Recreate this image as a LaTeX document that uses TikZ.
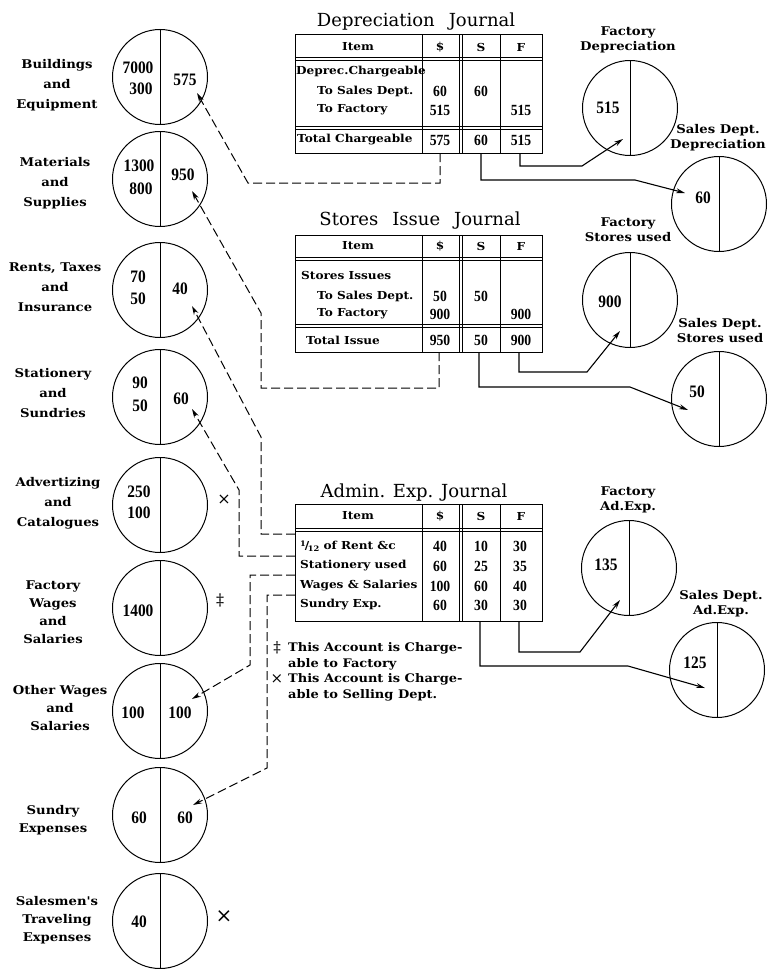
\documentclass[tikz,border=0pt]{standalone}
\usepackage{fontspec}
\setmainfont{DejaVu Serif}
\newfontfamily\lblfont[FakeStretch=1.1]{DejaVu Serif}
\newfontfamily\numfont[FakeStretch=0.88]{Liberation Serif}
\usetikzlibrary{arrows.meta,calc}

\newcommand{\twelfth}{\raisebox{3pt}{\fontsize{7.5}{7.5}\selectfont 1}\kern-1pt/\kern-1.5pt\raisebox{-1.5pt}{\fontsize{7.5}{7.5}\selectfont 12}}

\tikzset{
  acct/.style={circle, draw, line width=1pt, minimum size=95pt, inner sep=0pt},
  lbl/.style={font=\lblfont\bfseries\fontsize{12}{20}\selectfont, align=center, inner sep=0pt},
  lbltight/.style={lbl, font=\lblfont\bfseries\fontsize{12}{18}\selectfont},
  rlbl/.style={lbl, font=\lblfont\bfseries\fontsize{12}{15}\selectfont},
  cell/.style={font=\lblfont\bfseries\fontsize{11}{13}\selectfont, inner sep=0pt},
  note/.style={font=\lblfont\bfseries\fontsize{11.8}{16}\selectfont, inner sep=0pt, align=left, anchor=west},
  sym/.style={font=\fontsize{16}{16}\selectfont, inner sep=0pt},
  num/.style={font=\numfont\bfseries\fontsize{17.5}{17.5}\selectfont, inner sep=0pt},
  tnum/.style={font=\numfont\bfseries\fontsize{15.5}{15.5}\selectfont, inner sep=0pt},
  ttl/.style={font=\fontsize{18}{18}\selectfont, anchor=base, inner sep=0pt},
  tabline/.style={line width=1pt},
  slink/.style={line width=1.1pt, -{Stealth[length=9pt,width=5pt]}},
  dlink/.style={line width=1pt, dash pattern=on 9pt off 4pt, -{Stealth[open,length=9pt,width=5pt]}},
}

\begin{document}
\begin{tikzpicture}[x=1pt, y=-1pt]
\useasboundingbox (0,0) rectangle (769,969);

    % Accounts, left
    \foreach \n/\y in {bldg/77, matl/179, rent/290, stat/397, advt/505, fwag/608, owag/711, sund/815, trav/921} {
        \node[acct] (\n) at (160,\y) {};
        \draw[tabline] (\n.north) -- (\n.south);
    }

    % Accounts, right
    \foreach \n/\x/\y in {fdep/630/108, sdep/719/204, fsto/630/300, ssto/719/399, fadm/629/568, sadm/717/670} {
        \node[acct] (\n) at (\x,\y) {};
        \draw[tabline] (\n.north) -- (\n.south);
    }

    % Names
    \node[lbl] (bldg-l) at (57,85) {Buildings\\and\\Equipment};
    \node[lbl] (matl-l) at (55,183) {Materials\\and\\Supplies};
    \node[lbl] (rent-l) at (55,287) {Rents, Taxes\\and\\Insurance};
    \node[lbl] (stat-l) at (53,393) {Stationery\\and\\Sundries};
    \node[lbl] (advt-l) at (58,503) {Advertizing\\and\\Catalogues};
    \node[lbltight] (fwag-l) at (53,612) {Factory\\Wages\\and\\Salaries};
    \node[lbltight] (owag-l) at (60,708) {Other Wages\\and\\Salaries};
    \node[lbltight] (sund-l) at (53,820) {Sundry\\Expenses};
    \node[lbltight] (trav-l) at (57,920) {Salesmen's\\Traveling\\Expenses};

    \node[rlbl] (fdep-l) at (628,40) {Factory\\Depreciation};
    \node[rlbl] (sdep-l) at (718,138) {Sales Dept.\\Depreciation};
    \node[rlbl] (fsto-l) at (628,230) {Factory\\Stores used};
    \node[rlbl] (ssto-l) at (720,331) {Sales Dept.\\Stores used};
    \node[rlbl] (fadm-l) at (628,500) {Factory\\Ad.Exp.};
    \node[rlbl] (sadm-l) at (721,604) {Sales Dept.\\Ad.Exp.};

    % Amounts
    \node[num] (bldg-a) at (138,68) {7000};
    \node[num] (bldg-b) at (141,89) {300};
    \node[num] (bldg-c) at (185,80) {575};
    \node[num] (matl-a) at (139,166) {1300};
    \node[num] (matl-b) at (141,189) {800};
    \node[num] (matl-c) at (183,175) {950};
    \node[num] (rent-a) at (138,277) {70};
    \node[num] (rent-b) at (138,299) {50};
    \node[num] (rent-c) at (180,289) {40};
    \node[num] (stat-a) at (140,383) {90};
    \node[num] (stat-b) at (140,406) {50};
    \node[num] (stat-c) at (181,399) {60};
    \node[num] (advt-a) at (139,492) {250};
    \node[num] (advt-b) at (139,513) {100};
    \node[num] (fwag-a) at (138,611) {1400};
    \node[num] (owag-a) at (133,713) {100};
    \node[num] (owag-c) at (180,713) {100};
    \node[num] (sund-a) at (139,818) {60};
    \node[num] (sund-c) at (185,818) {60};
    \node[num] (trav-a) at (139,922) {40};

    \node[num] (fdep-a) at (608,108) {515};
    \node[num] (sdep-a) at (703,198) {60};
    \node[num] (fsto-a) at (610,302) {900};
    \node[num] (ssto-a) at (697,392) {50};
    \node[num] (fadm-a) at (606,565) {135};
    \node[num] (sadm-a) at (695,663) {125};

    % Marks
    \node[sym] (advt-m) at (224,500) {×};
    \node[sym] (fwag-m) at (220,600) {‡};
    \node[sym, font=\fontsize{20}{20}\selectfont] (trav-m) at (224,917) {×};

    % Journals
    \foreach \t/\h/\b in {34/57/153, 235/257/352, 504/528/621} {
        \draw[tabline] (295,\t) rectangle (542,\b);
        \draw[tabline] (295,\h) -- (542,\h) (295,\h+3) -- (542,\h+3);
        \draw[tabline] (422,\t) -- (422,\b) (459,\t) -- (459,\b) (462,\t) -- (462,\b) (500,\t) -- (500,\b);
    }
    \draw[tabline] (295,126) -- (542,126) (295,129) -- (542,129);
    \draw[tabline] (295,324) -- (542,324) (295,327) -- (542,327);

    \node[ttl] (d-title) at (416,27) {Depreciation\hspace{14pt}Journal};
    \node[ttl] (s-title) at (420,225) {Stores\hspace{14pt}Issue\hspace{14pt}Journal};
    \node[ttl] (a-title) at (414,497) {Admin. Exp. Journal};

    \foreach \j/\y in {d/47, s/246, a/516} {
        \node[cell] (\j-h1) at (358,\y) {Item};
        \node[cell] (\j-h2) at (440,\y) {\$};
        \node[cell] (\j-h3) at (481,\y) {S};
        \node[cell] (\j-h4) at (521,\y) {F};
    }

    % Depreciation
    \node[cell, anchor=west] (d-r1) at (296,72) {Deprec.Chargeable};
    \node[cell, anchor=west] (d-r2) at (317,91) {To Sales Dept.};
    \node[cell, anchor=west] (d-r3) at (317,110) {To Factory};
    \node[tnum] (d-d2) at (440,91) {60};
    \node[tnum] (d-d3) at (440,110) {515};
    \node[tnum] (d-s2) at (481,91) {60};
    \node[tnum] (d-f3) at (521,110) {515};
    \node[cell, anchor=west] (d-tot) at (297,140) {Total Chargeable};
    \node[tnum] (d-totd) at (440,140) {575};
    \node[tnum] (d-tots) at (481,140) {60};
    \node[tnum] (d-totf) at (521,140) {515};

    % Stores
    \node[cell, anchor=west] (s-r1) at (301,275) {Stores Issues};
    \node[cell, anchor=west] (s-r2) at (317,296) {To Sales Dept.};
    \node[cell, anchor=west] (s-r3) at (317,314) {To Factory};
    \node[tnum] (s-d2) at (440,296) {50};
    \node[tnum] (s-d3) at (440,314) {900};
    \node[tnum] (s-s2) at (481,296) {50};
    \node[tnum] (s-f3) at (521,314) {900};
    \node[cell, anchor=west] (s-tot) at (306,340) {Total Issue};
    \node[tnum] (s-totd) at (440,340) {950};
    \node[tnum] (s-tots) at (481,340) {50};
    \node[tnum] (s-totf) at (521,340) {900};

    % Admin
    \foreach \i/\y/\txt/\vd/\vs/\vf in {1/546/\twelfth{} of Rent \&c/40/10/30, 2/566/Stationery used/60/25/35, 3/586/Wages \& Salaries/100/60/40, 4/605/Sundry Exp./60/30/30} {
        \node[cell, anchor=west] (a-r\i) at (300,\y) {\txt};
        \node[tnum] (a-d\i) at (440,\y) {\vd};
        \node[tnum] (a-s\i) at (481,\y) {\vs};
        \node[tnum] (a-f\i) at (520,\y) {\vf};
    }

    \node[sym, font=\fontsize{15}{15}\selectfont] (mk-f) at (277,648) {‡};
    \node[note] (note-f) at (288,656) {This Account is Charge-\\able to Factory};
    \node[sym, font=\fontsize{15}{15}\selectfont] (mk-s) at (277,679) {×};
    \node[note] (note-s) at (288,687) {This Account is Charge-\\able to Selling Dept.};

    % Postings
    \coordinate (d-out1) at (440,153);
    \coordinate (d-out2) at (481,153);
    \coordinate (d-out3) at (520,153);
    \coordinate (s-out1) at (439,352);
    \coordinate (s-out2) at (479,352);
    \coordinate (s-out3) at (519,352);
    \coordinate (a-in1) at (295,534);
    \coordinate (a-in2) at (295,556);
    \coordinate (a-in3) at (295,575);
    \coordinate (a-in4) at (295,595);
    \coordinate (a-out2) at (480,621);
    \coordinate (a-out3) at (519,621);

    \draw[dlink] (d-out1) |- (248,183) -- ($(bldg)+(37,16)$);
    \draw[slink] (d-out2) |- (635,180) -- ($(sdep)+(-34,-11)$);
    \draw[slink] (d-out3) |- (582,166) -- ($(fdep)+(-7,31)$);

    \draw[dlink] (s-out1) |- (261,388) -- (261,313) -- ($(matl)+(32,12)$);
    \draw[slink] (s-out2) |- (630,387) -- ($(ssto)+(-31,11)$);
    \draw[slink] (s-out3) |- (587,372) -- ($(fsto)+(-10,31)$);

    \draw[dlink] (a-in1) -| (261,437) -- ($(rent)+(32,16)$);
    \draw[dlink] (a-in2) -| (239,490) -- ($(stat)+(32,12)$);
    \draw[dlink] (a-in3) -| (250,665) -- ($(owag)+(32,-12)$);
    \draw[dlink] (a-in4) -| (267,768) -- ($(sund)+(33,-10)$);
    \draw[slink] (a-out2) |- (628,666) -- ($(sadm)+(-12,18)$);
    \draw[slink] (a-out3) |- (580,652) -- ($(fadm)+(-9,32)$);

\end{tikzpicture}
\end{document}
